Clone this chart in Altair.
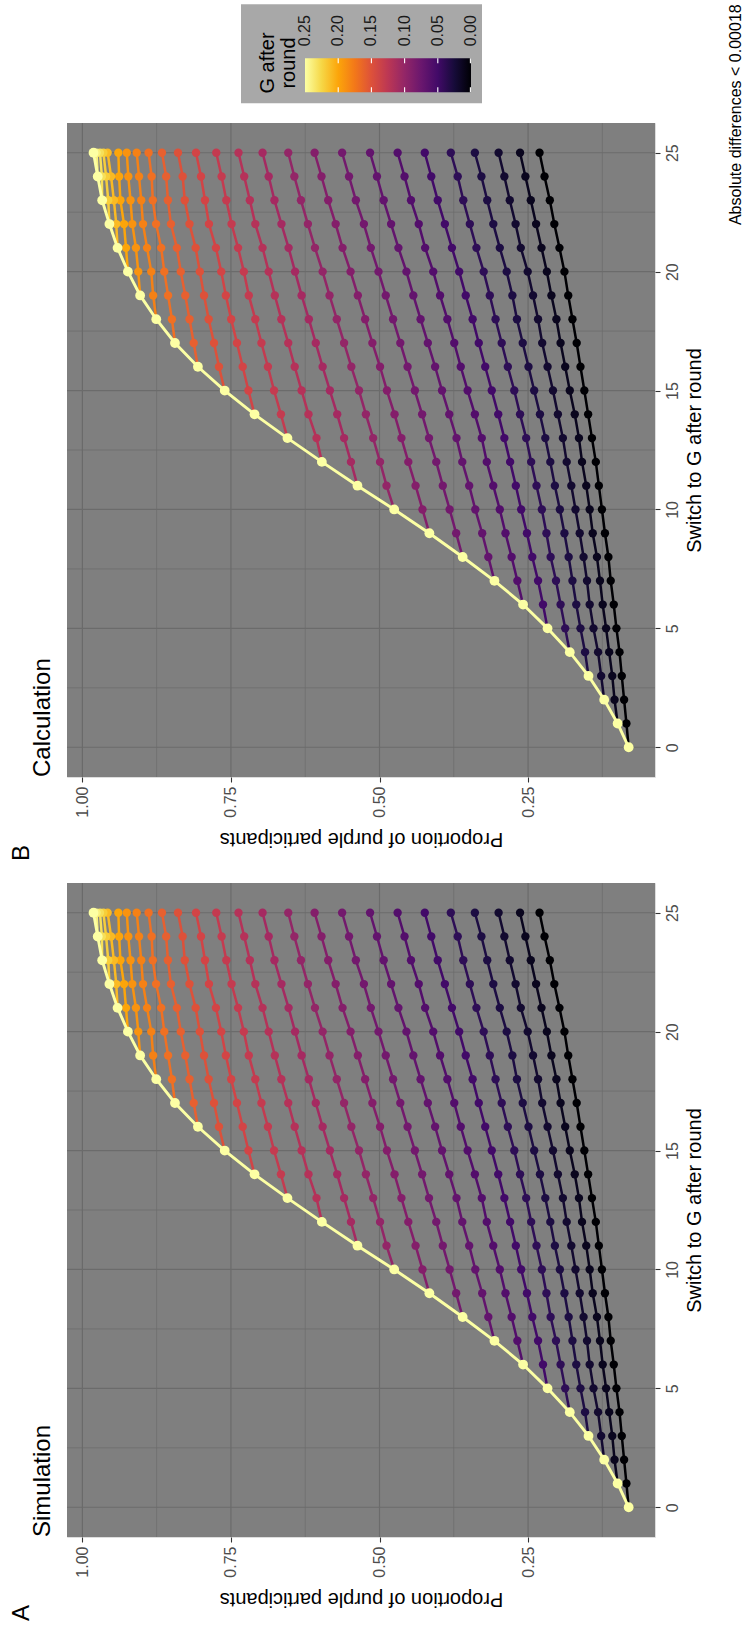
import altair as alt
import pandas as pd

FONT = "Liberation Sans"

ROUNDS = list(range(26))

# Proportion of purple participants after each round.
# Row r starts with the value on the upper envelope, followed by the curves
# that switched to G after rounds r-1, r-2, ..., 0.
PROPORTION_ROWS = [
    [0.0807],
    [0.0993, 0.0845],
    [0.1219, 0.1045, 0.0884],
    [0.1483, 0.1270, 0.1083, 0.0923],
    [0.1798, 0.1541, 0.1322, 0.1135, 0.0961],
    [0.2172, 0.1875, 0.1618, 0.1399, 0.1187, 0.1013],
    [0.2584, 0.2249, 0.1953, 0.1689, 0.1463, 0.1244, 0.1058],
    [0.3066, 0.2680, 0.2332, 0.2030, 0.1753, 0.1508, 0.1290, 0.1109],
    [0.3601, 0.3169, 0.2777, 0.2429, 0.2120, 0.1817, 0.1566, 0.1341, 0.1148],
    [0.4161, 0.3710, 0.3272, 0.2880, 0.2519, 0.2191, 0.1888, 0.1631, 0.1412, 0.1206],
    [0.4753, 0.4277, 0.3820, 0.3388, 0.2976, 0.2616, 0.2268, 0.1965, 0.1702, 0.1463,
     0.1257],
    [0.5371, 0.4882, 0.4393, 0.3935, 0.3491, 0.3086, 0.2706, 0.2358, 0.2049, 0.1772,
     0.1521, 0.1309],
    [0.5970, 0.5481, 0.4991, 0.4515, 0.4045, 0.3607, 0.3195, 0.2802, 0.2448, 0.2126,
     0.1850, 0.1592, 0.1360],
    [0.6549, 0.6060, 0.5596, 0.5107, 0.4631, 0.4167, 0.3704, 0.3279, 0.2899, 0.2532,
     0.2210, 0.1914, 0.1644, 0.1425],
    [0.7103, 0.6659, 0.6195, 0.5712, 0.5229, 0.4747, 0.4283, 0.3826, 0.3395, 0.3002,
     0.2635, 0.2300, 0.1998, 0.1714, 0.1489],
    [0.7605, 0.7206, 0.6775, 0.6311, 0.5835, 0.5345, 0.4875, 0.4405, 0.3948, 0.3517,
     0.3111, 0.2732, 0.2397, 0.2081, 0.1798, 0.1553],
    [0.8056, 0.7702, 0.7302, 0.6878, 0.6427, 0.5957, 0.5474, 0.4991, 0.4528, 0.4064,
     0.3633, 0.3221, 0.2841, 0.2493, 0.2172, 0.1875, 0.1618],
    [0.8442, 0.8127, 0.7785, 0.7399, 0.6987, 0.6536, 0.6073, 0.5596, 0.5120, 0.4650,
     0.4187, 0.3742, 0.3330, 0.2944, 0.2590, 0.2262, 0.1953, 0.1682],
    [0.8757, 0.8493, 0.8197, 0.7875, 0.7496, 0.7090, 0.6652, 0.6189, 0.5719, 0.5242,
     0.4772, 0.4309, 0.3858, 0.3433, 0.3047, 0.2687, 0.2332, 0.2023, 0.1753],
    [0.9028, 0.8809, 0.8558, 0.8268, 0.7953, 0.7586, 0.7200, 0.6762, 0.6311, 0.5841,
     0.5365, 0.4895, 0.4431, 0.3981, 0.3549, 0.3144, 0.2764, 0.2416, 0.2107, 0.1824],
    [0.9234, 0.9060, 0.8841, 0.8622, 0.8345, 0.8024, 0.7663, 0.7283, 0.6865, 0.6421,
     0.5957, 0.5487, 0.5017, 0.4547, 0.4096, 0.3659, 0.3247, 0.2860, 0.2506, 0.2184,
     0.1888],
    [0.9408, 0.9266, 0.9099, 0.8912, 0.8674, 0.8410, 0.8094, 0.7753, 0.7380, 0.6968,
     0.6530, 0.6086, 0.5622, 0.5146, 0.4682, 0.4232, 0.3781, 0.3369, 0.2976, 0.2622,
     0.2274, 0.1972],
    [0.9545, 0.9430, 0.9300, 0.9160, 0.8980, 0.8760, 0.8510, 0.8198, 0.7870, 0.7490,
     0.7090, 0.6650, 0.6205, 0.5738, 0.5263, 0.4805, 0.4340, 0.3900, 0.3480, 0.3085,
     0.2710, 0.2365, 0.2058],
    [0.9667, 0.9565, 0.9470, 0.9360, 0.9190, 0.9010, 0.8815, 0.8560, 0.8277, 0.7937,
     0.7578, 0.7182, 0.6768, 0.6322, 0.5863, 0.5398, 0.4930, 0.4470, 0.4020, 0.3590,
     0.3187, 0.2808, 0.2454, 0.2134],
    [0.9742, 0.9672, 0.9601, 0.9517, 0.9382, 0.9227, 0.9047, 0.8835, 0.8590, 0.8313,
     0.8004, 0.7657, 0.7277, 0.6865, 0.6433, 0.5976, 0.5513, 0.5043, 0.4579, 0.4129,
     0.3684, 0.3285, 0.2899, 0.2545, 0.2223],
    [0.9813, 0.9762, 0.9704, 0.9646, 0.9575, 0.9395, 0.9253, 0.9086, 0.8886, 0.8661,
     0.8391, 0.8088, 0.7747, 0.7373, 0.6968, 0.6536, 0.6092, 0.5629, 0.5159, 0.4695,
     0.4238, 0.3800, 0.3395, 0.2996, 0.2635, 0.2307],
]

# G after round for the curve that switches after round k (k = 0..24)
G_AFTER_ROUND = [0.00, 0.01, 0.02, 0.03, 0.04, 0.05, 0.06, 0.07, 0.08, 0.09,
                 0.10, 0.11, 0.12, 0.13, 0.14, 0.15, 0.16, 0.17, 0.18, 0.19,
                 0.20, 0.21, 0.22, 0.23, 0.24]
G_ENVELOPE = 0.25

LEGEND_BREAKS = [0.25, 0.20, 0.15, 0.10, 0.05, 0.00]
P_TICKS = [0.25, 0.50, 0.75, 1.00]
P_MINOR = [0.125, 0.375, 0.625, 0.875]
ROUND_TICKS = [0, 5, 10, 15, 20, 25]
ROUND_MINOR = [2.5, 7.5, 12.5, 17.5, 22.5]

# inferno palette, dark to light (used by the colour scale and the colour bar)
INFERNO = ["#000004", "#160b39", "#420a68", "#6a176e", "#932667", "#bc3754",
           "#dd513a", "#f37819", "#fca50a", "#f6d746", "#fcffa4"]

# ---- long table -------------------------------------------------------------
records = []
for k, g in enumerate(G_AFTER_ROUND):
    records.append({"round": k, "p": PROPORTION_ROWS[k][0], "curve": k, "g": g, "first": True})
    for r in range(k + 1, len(ROUNDS)):
        records.append({"round": r, "p": PROPORTION_ROWS[r][r - k], "curve": k, "g": g, "first": False})
for r in ROUNDS:
    records.append({"round": r, "p": PROPORTION_ROWS[r][0], "curve": 25, "g": G_ENVELOPE, "first": False})
df = pd.DataFrame(records)
branches = df[df["curve"] < 25]
branch_points = branches[~branches["first"]]
envelope = df[df["curve"] == 25]

W, H = 588, 654
BG = "#7F7F7F"
GRID = "#6B6B6B"

# colour bar geometry (relative to the top panel's plot origin)
BAR_X, BAR_Y, BAR_LEN, BAR_THICK = 238, -64.7, 166, 34
G_MAX = 0.25

x_enc = alt.X(
    "p:Q",
    title="Proportion of purple participants",
    scale=alt.Scale(domain=[0.0364, 1.0259], reverse=True, nice=False, zero=False),
    axis=alt.Axis(
        values=P_TICKS, format=".2f", grid=False, domain=False,
        labelAngle=270, labelAlign="right", labelBaseline="middle",
        labelFontSize=16, labelColor="#4D4D4D", labelFont=FONT, labelPadding=4,
        labelFlush=False, labelOverlap=False,
        tickSize=5, tickColor="#333333", tickWidth=1.1,
        titleAngle=180, titleBaseline="bottom", titleAlign="center",
        titleFontSize=20, titleFontWeight="normal", titleColor="black",
        titleFont=FONT, titlePadding=11,
    ),
)
y_enc = alt.Y(
    "round:Q",
    title="Switch to G after round",
    scale=alt.Scale(domain=[-1.25, 26.25], nice=False, zero=False),
    axis=alt.Axis(
        orient="right", values=ROUND_TICKS, format="d", grid=False, domain=False,
        labelAngle=270, labelAlign="center", labelBaseline="top",
        labelFontSize=16, labelColor="#4D4D4D", labelFont=FONT, labelPadding=4,
        labelFlush=False, labelOverlap=False,
        tickSize=5, tickColor="#333333", tickWidth=1.1,
        titleAngle=270, titleBaseline="top", titleAlign="center",
        titleFontSize=20, titleFontWeight="normal", titleColor="black",
        titleFont=FONT, titlePadding=4,
    ),
)
color_enc = alt.Color(
    "g:Q",
    scale=alt.Scale(range=INFERNO, domain=[0.0, G_MAX], nice=False, zero=False),
    legend=None,
)


def text_layer(text, x, y, size, align="left", color="black"):
    return alt.Chart(pd.DataFrame({"text": [text]})).mark_text(
        angle=270, align=align, baseline="middle", fontSize=size, font=FONT, color=color
    ).encode(x=alt.value(x), y=alt.value(y), text="text:N")


def one_row():
    return alt.Chart(pd.DataFrame({"v": [0]}))


def legend_layers():
    """Grey backdrop, title, colour bar, rotated labels and white ticks."""
    box = one_row().mark_rect(color="#A8A8A8").encode(
        x=alt.value(174), x2=alt.value(415), y=alt.value(-118.7), y2=alt.value(-19.7)
    )
    # bar runs from G_MAX on the left to 0 on the right
    n = len(INFERNO) - 1
    stops = [alt.GradientStop(color=c, offset=1 - i / n) for i, c in enumerate(INFERNO)][::-1]
    bar = one_row().mark_rect(
        color=alt.LinearGradient(gradient="linear", stops=stops, x1=0, x2=1, y1=0, y2=0)
    ).encode(
        x=alt.value(BAR_X), x2=alt.value(BAR_X + BAR_LEN),
        y=alt.value(BAR_Y), y2=alt.value(BAR_Y + BAR_THICK),
    )
    parts = [text_layer("G after", 201, -60, 20, align="center"),
             text_layer("round", 222, -60, 20, align="center")]
    for v in LEGEND_BREAKS:
        bx = BAR_X + (G_MAX - v) / G_MAX * BAR_LEN
        parts.append(text_layer(f"{v:.2f}", bx, BAR_Y - 12, 16, color="#1A1A1A"))
        if v < G_MAX:
            tx = min(bx, BAR_X + BAR_LEN - 0.6)
            for y0 in (BAR_Y, BAR_Y + BAR_THICK - 5):
                parts.append(
                    one_row().mark_rule(color="white", strokeWidth=1.1).encode(
                        x=alt.value(tx), y=alt.value(y0), y2=alt.value(y0 + 5)
                    )
                )
    return [box, bar] + parts


def panel(title, tag, with_legend):
    background = one_row().mark_rect(color=BG).encode(
        x=alt.value(0), x2=alt.value(W), y=alt.value(0), y2=alt.value(H)
    )
    grid_major_x = alt.Chart(pd.DataFrame({"p": P_TICKS})).mark_rule(color=GRID, strokeWidth=1.2).encode(x=x_enc)
    grid_minor_x = alt.Chart(pd.DataFrame({"p": P_MINOR})).mark_rule(color=GRID, strokeWidth=0.7).encode(x=x_enc)
    grid_major_y = alt.Chart(pd.DataFrame({"round": ROUND_TICKS})).mark_rule(color=GRID, strokeWidth=1.2).encode(y=y_enc)
    grid_minor_y = alt.Chart(pd.DataFrame({"round": ROUND_MINOR})).mark_rule(color=GRID, strokeWidth=0.7).encode(y=y_enc)

    branch_lines = alt.Chart(branches).mark_line(strokeWidth=2.5).encode(
        x=x_enc, y=y_enc, color=color_enc, detail="curve:N", order="round:Q"
    )
    branch_dots = alt.Chart(branch_points).mark_point(filled=True, opacity=1, size=70, shape="circle").encode(
        x=x_enc, y=y_enc, color=color_enc
    )
    env_line = alt.Chart(envelope).mark_line(strokeWidth=2.9).encode(
        x=x_enc, y=y_enc, color=color_enc, order="round:Q"
    )
    env_dots = alt.Chart(envelope).mark_point(filled=True, opacity=1, size=96, shape="circle").encode(
        x=x_enc, y=y_enc, color=color_enc
    )

    layers = [background, grid_minor_x, grid_minor_y, grid_major_x, grid_major_y,
              branch_lines, branch_dots, env_line, env_dots,
              text_layer(title, -24, H, 24),
              text_layer(tag, -45, 738, 24)]
    if with_legend:
        layers = layers + legend_layers() + [
            text_layer("Absolute differences < 0.00018", 669, -118.7, 16, align="right"),
        ]
    return alt.layer(*layers).properties(width=W, height=H)


chart = alt.vconcat(
    panel("Calculation", "B", True),
    panel("Simulation", "A", False),
    spacing=106,
    bounds="flush",
).properties(
    padding={"left": 9, "top": 3, "right": 0, "bottom": 0}
).configure_view(fill=BG, stroke=None).configure(font=FONT)

chart.save("out.html", embed_options={"renderer": "svg", "actions": False})
